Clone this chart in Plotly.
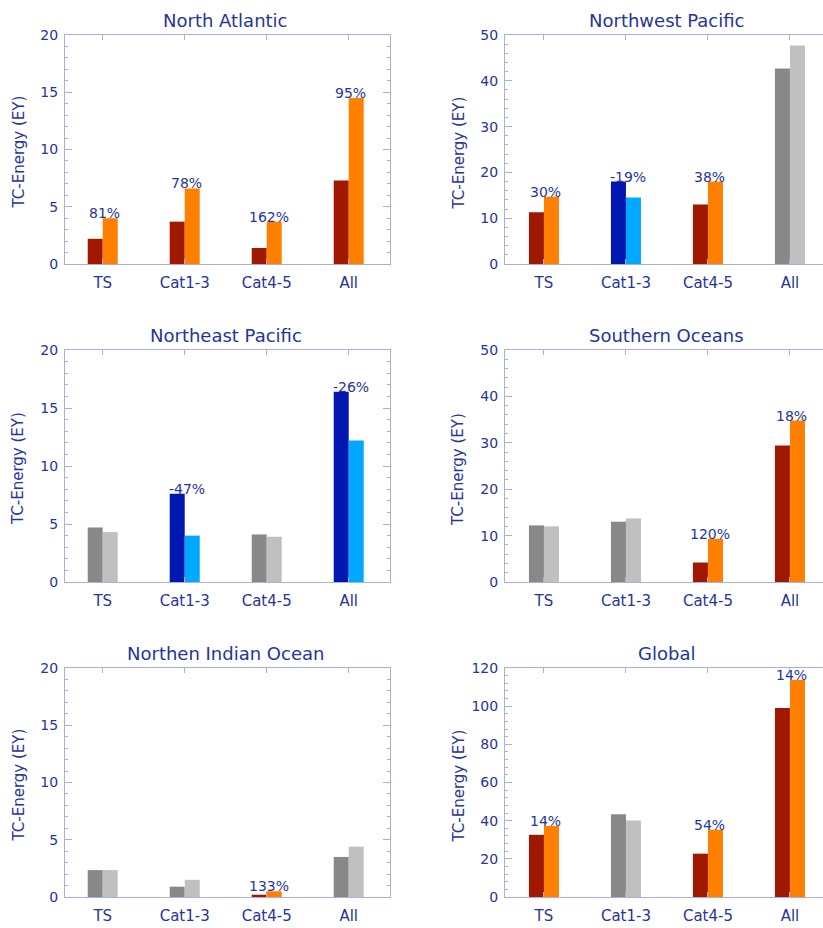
import plotly.graph_objects as go

# ---------------- data ----------------
categories = ["TS", "Cat1-3", "Cat4-5", "All"]

titles = ["North Atlantic", "Northwest Pacific", "Northeast Pacific",
          "Southern Oceans", "Northen Indian Ocean", "Global"]

na_present = [2.2, 3.7, 1.4, 7.3]
na_future = [4.0, 6.6, 3.7, 14.5]
na_sig = ["up", "up", "up", "up"]
na_pct = ["81%", "78%", "162%", "95%"]

nwp_present = [11.3, 18.0, 13.0, 42.7]
nwp_future = [14.7, 14.5, 18.0, 47.7]
nwp_sig = ["up", "down", "up", "ns"]
nwp_pct = ["30%", "-19%", "38%", None]

nep_present = [4.7, 7.6, 4.1, 16.4]
nep_future = [4.3, 4.0, 3.9, 12.2]
nep_sig = ["ns", "down", "ns", "down"]
nep_pct = [None, "-47%", None, "-26%"]

so_present = [12.2, 13.0, 4.2, 29.4]
so_future = [12.0, 13.7, 9.3, 34.8]
so_sig = ["ns", "ns", "up", "up"]
so_pct = [None, None, "120%", "18%"]

nio_present = [2.35, 0.9, 0.2, 3.5]
nio_future = [2.35, 1.5, 0.5, 4.4]
nio_sig = ["ns", "ns", "up", "ns"]
nio_pct = [None, None, "133%", None]

gl_present = [32.6, 43.3, 22.7, 99.1]
gl_future = [37.2, 40.1, 35.2, 113.7]
gl_sig = ["up", "ns", "up", "up"]
gl_pct = ["14%", None, "54%", "14%"]

y_ranges = [[0, 20], [0, 50], [0, 20], [0, 50], [0, 20], [0, 120]]
y_dticks = [5, 10, 5, 10, 5, 20]
y_minor = [1, 2, 1, 2, 1, 4]

panels = [
    (na_present, na_future, na_sig, na_pct),
    (nwp_present, nwp_future, nwp_sig, nwp_pct),
    (nep_present, nep_future, nep_sig, nep_pct),
    (so_present, so_future, so_sig, so_pct),
    (nio_present, nio_future, nio_sig, nio_pct),
    (gl_present, gl_future, gl_sig, gl_pct),
]

# ---------------- style ----------------
TEXT = "#26349c"
AXIS = "#a9b0dc"
COLORS = {"up": ("#a01800", "#ff8000"),
          "down": ("#0018b0", "#00a8ff"),
          "ns": ("#888888", "#c0c0c0")}
FONT = "DejaVu Sans"

W, H = 823, 928
left_dom = [65 / W, 390 / W]
right_dom = [505 / W, 1.0]
rows = [(35, 264), (350, 582), (668, 897)]
SP = 82.0  # px per category

fig = go.Figure()
annotations = []
layout = {}

for i, (pres, fut, sig, pct) in enumerate(panels):
    r, c = divmod(i, 2)
    sfx = "" if i == 0 else str(i + 1)
    xa, ya = "x" + sfx, "y" + sfx
    top, bot = rows[r]
    xdom = left_dom if c == 0 else right_dom
    ydom = [1 - bot / H, 1 - top / H]
    if c == 0:
        xr = [-0.46, -0.46 + 325 / SP]
    else:
        xr = [-0.475, -0.475 + 318 / SP]

    fig.add_trace(go.Bar(x=categories, y=pres,
                         marker=dict(color=[COLORS[s][0] for s in sig], line=dict(width=0)),
                         xaxis=xa, yaxis=ya, showlegend=False, hoverinfo="skip"))
    fig.add_trace(go.Bar(x=categories, y=fut,
                         marker=dict(color=[COLORS[s][1] for s in sig], line=dict(width=0)),
                         xaxis=xa, yaxis=ya, showlegend=False, hoverinfo="skip"))

    layout["xaxis" + sfx] = dict(
        domain=xdom, range=xr, anchor=ya, type="category",
        showline=True, linecolor=AXIS, linewidth=1, mirror="allticks",
        ticks="inside", ticklen=5, tickcolor=AXIS, ticklabelstandoff=5,
        tickfont=dict(family=FONT, size=15, color=TEXT),
        showgrid=False, zeroline=False, fixedrange=True, automargin=False,
    )
    layout["yaxis" + sfx] = dict(
        domain=ydom, range=y_ranges[i], anchor=xa, dtick=y_dticks[i],
        showline=True, linecolor=AXIS, linewidth=1,
        mirror="allticks" if c == 0 else False,
        ticks="inside", ticklen=7, tickcolor=AXIS, ticklabelstandoff=3,
        minor=dict(ticks="inside", ticklen=3, dtick=y_minor[i], tickcolor=AXIS),
        tickfont=dict(family=FONT, size=14, color=TEXT),
        showgrid=False, zeroline=False, fixedrange=True, automargin=False,
    )

    # panel title
    annotations.append(dict(
        text=titles[i], xref=xa, yref=ya + " domain", x=1.5, y=1,
        yanchor="middle", yshift=15, showarrow=False,
        font=dict(family=FONT, size=18, color=TEXT)))
    # y axis title
    annotations.append(dict(
        text="TC-Energy (EY)", xref=xa + " domain", yref=ya + " domain",
        x=0, y=0.5, xanchor="center", xshift=-47, yshift=-3, textangle=-90,
        showarrow=False, font=dict(family=FONT, size=15, color=TEXT)))
    # percentage labels
    for k, lab in enumerate(pct):
        if lab is None:
            continue
        annotations.append(dict(
            text=lab, xref=xa, yref=ya, x=k, y=max(pres[k], fut[k]),
            xshift=2, yanchor="bottom", yshift=-5, showarrow=False,
            font=dict(family=FONT, size=14, color=TEXT)))

fig.update_layout(
    width=W, height=H, margin=dict(l=0, r=0, t=0, b=0),
    paper_bgcolor="white", plot_bgcolor="white",
    barmode="group", bargap=0.634, bargroupgap=0,
    annotations=annotations, **layout,
)

fig.write_html(
    "out.html",
    config={"displayModeBar": False},
    post_script="document.documentElement.style.margin='0';"
                "document.body.style.margin='0';document.body.style.overflow='hidden';",
)
